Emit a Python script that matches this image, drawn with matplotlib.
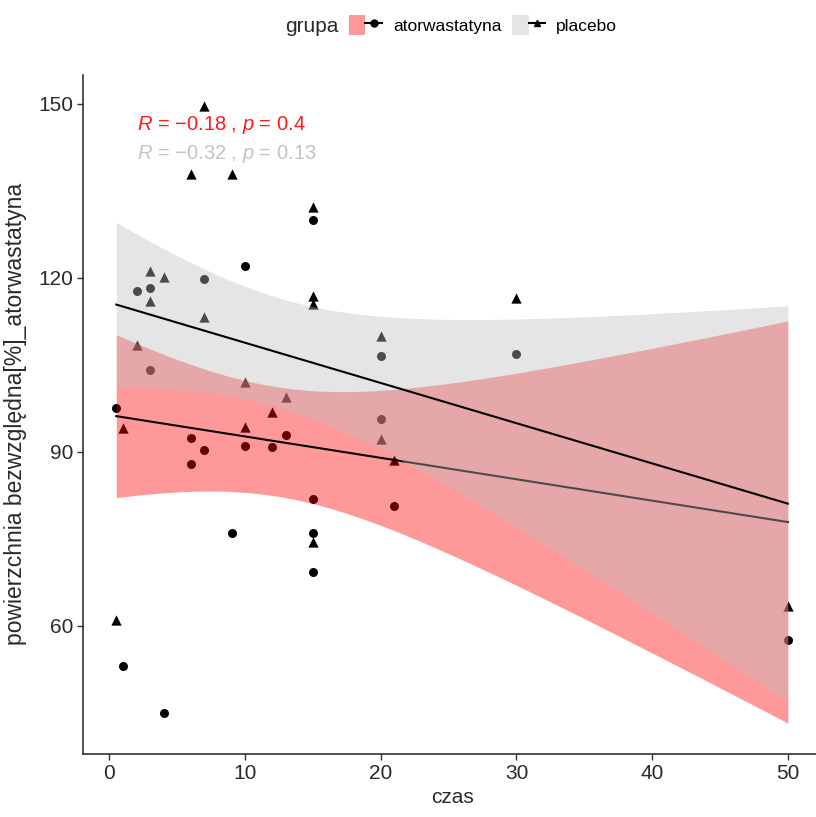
import numpy as np
import matplotlib
matplotlib.use("Agg")
import matplotlib.pyplot as plt
from matplotlib.patches import Patch
from matplotlib.lines import Line2D
from matplotlib.legend_handler import HandlerTuple

plt.rcParams['font.family'] = ['Liberation Sans', 'DejaVu Sans']
plt.rcParams['mathtext.fontset'] = 'custom'
plt.rcParams['mathtext.rm'] = 'Liberation Sans'
plt.rcParams['mathtext.it'] = 'Liberation Sans:italic'

# atorwastatyna (circles)
ator_czas = [15, 10, 7, 2, 3, 20, 30, 3, 0.5, 6, 10, 12, 13, 7, 6, 20, 15, 21,
             9, 15, 15, 1, 4, 50]
ator_pow = [130.0, 122.1, 119.8, 117.8, 118.3, 106.6, 106.9, 104.1, 97.6, 92.4,
            91.0, 90.9, 92.9, 90.3, 87.9, 95.7, 81.9, 80.7, 76.0, 76.0, 69.3,
            53.1, 45.0, 57.6]

# placebo (triangles)
plac_czas = [7, 6, 9, 15, 15, 15, 3, 4, 3, 7, 30, 20, 2, 10, 13, 12, 10, 20, 21,
             1, 15, 0.5, 50]
plac_pow = [149.7, 137.9, 137.9, 132.2, 116.9, 115.5, 121.2, 120.2, 116.0, 113.3,
            116.6, 110.0, 108.4, 102.1, 99.5, 96.9, 94.3, 92.2, 88.6, 94.1, 74.4,
            61.0, 63.4]

groups = ['atorwastatyna', 'placebo']
cor_labels = [r'$R$ = −0.18 , $p$ = 0.4', r'$R$ = −0.32 , $p$ = 0.13']

# two-sided 95% t quantiles for df = n - 2
t95 = {21: 2.080, 22: 2.074}


def lm_band(x, y, n_pts=80):
    x = np.asarray(x, float)
    y = np.asarray(y, float)
    n = len(x)
    b, a = np.polyfit(x, y, 1)
    resid = y - (a + b * x)
    s = np.sqrt(np.sum(resid ** 2) / (n - 2))
    xbar = x.mean()
    sxx = np.sum((x - xbar) ** 2)
    xs = np.linspace(x.min(), x.max(), n_pts)
    fit = a + b * xs
    se = s * np.sqrt(1 / n + (xs - xbar) ** 2 / sxx)
    t = t95[n - 2]
    return xs, fit, fit - t * se, fit + t * se


W, H = 816, 817
fig = plt.figure(figsize=(W / 100, H / 100), dpi=100)
ax = fig.add_axes([82.7 / W, 1 - 754 / H, (821.4 - 82.7) / W, (754 - 74.8) / H])

ax.scatter(ator_czas, ator_pow, marker='o', s=42, color='black', lw=0, zorder=1)
ax.scatter(plac_czas, plac_pow, marker='^', s=55, color='black', lw=0, zorder=1)

xa, fa, loa, hia = lm_band(ator_czas, ator_pow)
xp, fp, lop, hip = lm_band(plac_czas, plac_pow)

ax.fill_between(xa, loa, hia, color='red', alpha=0.4, lw=0, zorder=2)
ax.plot(xa, fa, color='black', lw=1.5, zorder=3)
ax.fill_between(xp, lop, hip, color='#BEBEBE', alpha=0.4, lw=0, zorder=4)
ax.plot(xp, fp, color='black', lw=1.5, zorder=5)

# limits with 5% expansion, ribbons included
xall = np.concatenate([ator_czas, plac_czas])
yall = np.concatenate([ator_pow, plac_pow, loa, hia, lop, hip])
xr = xall.max() - xall.min()
yr = yall.max() - yall.min()
ax.set_xlim(xall.min() - 0.05 * xr, xall.max() + 0.05 * xr)
ax.set_ylim(yall.min() - 0.05 * yr, yall.max() + 0.05 * yr)

ax.text(2, 146.3, cor_labels[0], color='#FF1A1A', fontsize=14.5, va='center', ha='left', zorder=6)
ax.text(2, 141.4, cor_labels[1], color='#C4C4C4', fontsize=14.5, va='center', ha='left', zorder=6)

ax.set_xticks([0, 10, 20, 30, 40, 50])
ax.set_yticks([60, 90, 120, 150])
ax.tick_params(direction='out', length=4, width=1, color='#333333',
               labelcolor='#2a2a2a', labelsize=15, pad=3)
for side in ['top', 'right']:
    ax.spines[side].set_visible(False)
for side in ['left', 'bottom']:
    ax.spines[side].set_linewidth(1.1)
    ax.spines[side].set_color('#222222')

ax.set_xlabel('czas', fontsize=15, color='#2a2a2a', labelpad=4)
ax.set_ylabel('powierzchnia bezwzględna[%]_atorwastatyna', fontsize=16.5,
              color='#2a2a2a', labelpad=8)

# legend on top
handles = [
    (Patch(facecolor='red', alpha=0.4, lw=0),
     Line2D([], [], color='black', lw=1.5, marker='o', markersize=5)),
    (Patch(facecolor='#BEBEBE', alpha=0.4, lw=0),
     Line2D([], [], color='black', lw=1.5, marker='^', markersize=5)),
]
fig.text(338 / W, 1 - 27 / H, 'grupa', fontsize=15, color='#2a2a2a',
         ha='right', va='center')
fig.legend(handles, groups, loc='center left', bbox_to_anchor=(349 / W, 1 - 25 / H),
           ncol=2, frameon=False, fontsize=12.5, handlelength=1.9, handleheight=1.45,
           handletextpad=0.63, columnspacing=0.63, borderpad=0, borderaxespad=0,
           handler_map={tuple: HandlerTuple(ndivide=None)})

fig.savefig('out.png', dpi=100)
